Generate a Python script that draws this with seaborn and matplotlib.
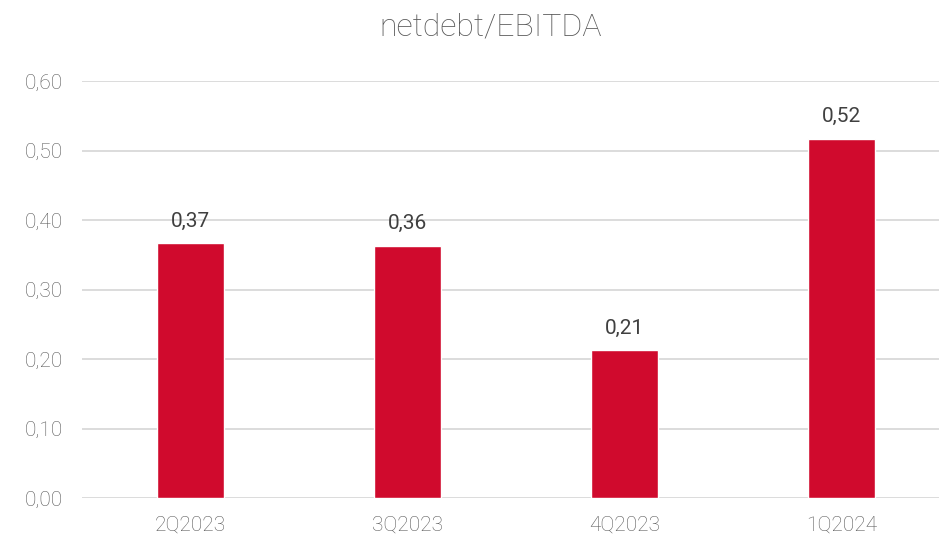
import matplotlib
matplotlib.use("Agg")
import matplotlib.pyplot as plt
import seaborn as sns
import pandas as pd

quarters = ["2Q2023", "3Q2023", "4Q2023", "1Q2024"]
ratio = [0.367, 0.363, 0.213, 0.517]
yticks = [0.0, 0.1, 0.2, 0.3, 0.4, 0.5, 0.6]

df = pd.DataFrame({"quarter": quarters, "ratio": ratio})

sns.set_theme(style="whitegrid")
plt.rcParams['font.family'] = ['Roboto', 'DejaVu Sans']

fig = plt.figure(figsize=(9.39, 5.45), dpi=100)
ax = fig.add_axes([82 / 939, 1 - 498 / 545, 857 / 939, (498 - 81) / 545])

sns.barplot(data=df, x="quarter", y="ratio", color="#D00A2D", width=0.31,
            saturation=1, ax=ax)

ax.set_ylim(0, 0.6)
ax.set_xlim(-0.5, 3.45)
ax.set_yticks(yticks)
ax.set_yticklabels([f"{v:.2f}".replace(".", ",") for v in yticks],
                   fontsize=15, color="#595959", fontweight="light")
ax.set_xticks(range(len(quarters)))
ax.set_xticklabels(quarters, fontsize=15, color="#595959", fontweight="light")
ax.tick_params(axis="y", length=0, pad=14)
ax.tick_params(axis="x", length=0, pad=13)
ax.grid(axis="y", color="#D9D9D9", linewidth=1.3)
ax.grid(axis="x", visible=False)
for s in ax.spines.values():
    s.set_visible(False)
ax.set_xlabel("")
ax.set_ylabel("")

for i, v in enumerate(ratio):
    ax.annotate(f"{v:.2f}".replace(".", ","), (i, v), xytext=(0, 9),
                textcoords="offset points", ha="center", va="bottom",
                fontsize=15, color="#404040")

fig.text(491 / 939, 1 - 27 / 545, "netdebt/EBITDA", ha="center", va="center",
         fontsize=23, color="#595959", fontweight="light")

fig.savefig("out.png", dpi=100)
